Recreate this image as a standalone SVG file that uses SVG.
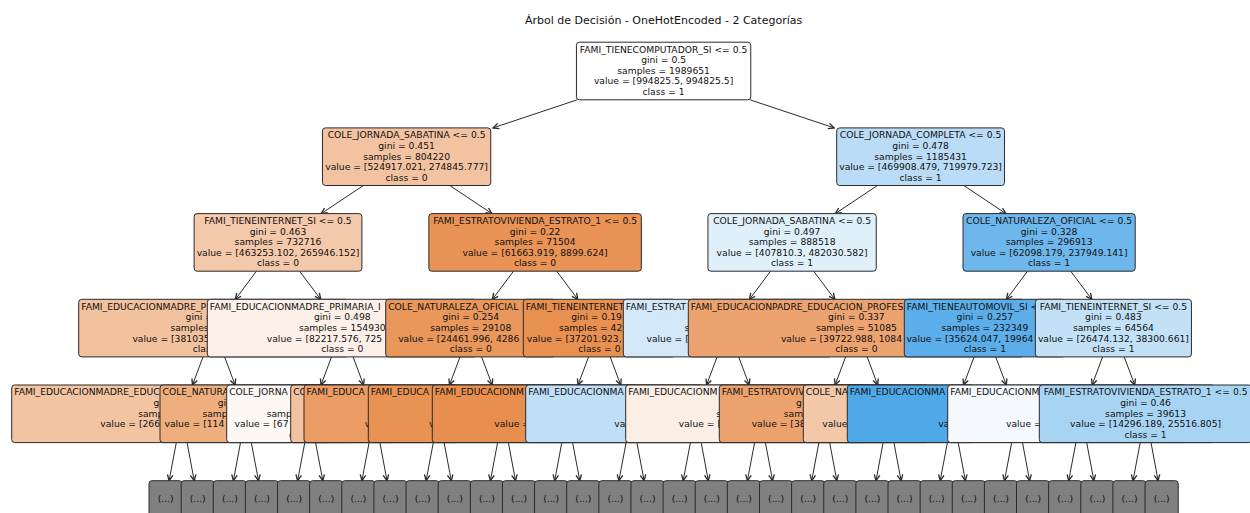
<svg xmlns="http://www.w3.org/2000/svg" width="1250" height="513" viewBox="0 0 1250 513">
<defs>
<style>
.t{font-family:"DejaVu Sans","Liberation Sans",sans-serif;font-size:9.2px;fill:#111}
.m{text-anchor:middle}
.ttl{font-family:"DejaVu Sans","Liberation Sans",sans-serif;font-size:11px;fill:#111;text-anchor:middle}
.box{stroke:#2b2b2b;stroke-width:1}
.leaf{fill:#808080;stroke:#2b2b2b;stroke-width:1}
.e line{stroke:#2b2b2b;stroke-width:1;marker-end:url(#ah)}
</style>
<marker id="ah" markerUnits="userSpaceOnUse" markerWidth="8" markerHeight="8" refX="5" refY="3" orient="auto" viewBox="0 0 6 6"><path d="M0.6,0.9 L5,3 L0.6,5.1" fill="none" stroke="#2b2b2b" stroke-width="1"/></marker>
</defs>
<rect width="1250" height="513" fill="#fff"/>
<text class="ttl" x="663.6" y="23.5">Árbol de Decisión - OneHotEncoded - 2 Categorías</text>

<g id="connectors" class="e">
<line x1="577.2" y1="99.8" x2="493.0" y2="127.9"/>
<line x1="750.0" y1="99.8" x2="834.2" y2="127.9"/>
<line x1="363.4" y1="185.5" x2="321.2" y2="213.6"/>
<line x1="449.8" y1="185.5" x2="491.9" y2="213.6"/>
<line x1="877.4" y1="185.5" x2="835.3" y2="213.6"/>
<line x1="963.8" y1="185.5" x2="1005.9" y2="213.6"/>
<line x1="256.4" y1="271.2" x2="235.4" y2="299.3"/>
<line x1="299.6" y1="271.2" x2="320.7" y2="299.3"/>
<line x1="513.5" y1="271.2" x2="492.4" y2="299.3"/>
<line x1="556.7" y1="271.2" x2="577.8" y2="299.3"/>
<line x1="770.5" y1="271.2" x2="749.5" y2="299.3"/>
<line x1="813.7" y1="271.2" x2="834.8" y2="299.3"/>
<line x1="1027.5" y1="271.2" x2="1006.5" y2="299.3"/>
<line x1="1070.7" y1="271.2" x2="1091.8" y2="299.3"/>
<line x1="203.0" y1="356.9" x2="192.5" y2="385.0"/>
<line x1="224.6" y1="356.9" x2="235.1" y2="385.0"/>
<line x1="331.5" y1="356.9" x2="321.0" y2="385.0"/>
<line x1="353.1" y1="356.9" x2="363.6" y2="385.0"/>
<line x1="460.0" y1="356.9" x2="449.5" y2="385.0"/>
<line x1="481.6" y1="356.9" x2="492.2" y2="385.0"/>
<line x1="588.6" y1="356.9" x2="578.0" y2="385.0"/>
<line x1="610.2" y1="356.9" x2="620.7" y2="385.0"/>
<line x1="717.1" y1="356.9" x2="706.6" y2="385.0"/>
<line x1="738.7" y1="356.9" x2="749.2" y2="385.0"/>
<line x1="845.6" y1="356.9" x2="835.1" y2="385.0"/>
<line x1="867.2" y1="356.9" x2="877.7" y2="385.0"/>
<line x1="974.1" y1="356.9" x2="963.6" y2="385.0"/>
<line x1="995.7" y1="356.9" x2="1006.3" y2="385.0"/>
<line x1="1102.6" y1="356.9" x2="1092.1" y2="385.0"/>
<line x1="1124.2" y1="356.9" x2="1134.8" y2="385.0"/>
<line x1="176.3" y1="442.6" x2="169.1" y2="480.7"/>
<line x1="187.1" y1="442.6" x2="194.2" y2="480.7"/>
<line x1="240.5" y1="442.6" x2="233.4" y2="480.7"/>
<line x1="251.3" y1="442.6" x2="258.5" y2="480.7"/>
<line x1="304.8" y1="442.6" x2="297.6" y2="480.7"/>
<line x1="315.6" y1="442.6" x2="322.8" y2="480.7"/>
<line x1="369.1" y1="442.6" x2="361.9" y2="480.7"/>
<line x1="379.9" y1="442.6" x2="387.0" y2="480.7"/>
<line x1="433.3" y1="442.6" x2="426.1" y2="480.7"/>
<line x1="444.1" y1="442.6" x2="451.3" y2="480.7"/>
<line x1="497.6" y1="442.6" x2="490.4" y2="480.7"/>
<line x1="508.4" y1="442.6" x2="515.5" y2="480.7"/>
<line x1="561.8" y1="442.6" x2="554.7" y2="480.7"/>
<line x1="572.6" y1="442.6" x2="579.8" y2="480.7"/>
<line x1="626.1" y1="442.6" x2="618.9" y2="480.7"/>
<line x1="636.9" y1="442.6" x2="644.1" y2="480.7"/>
<line x1="690.4" y1="442.6" x2="683.2" y2="480.7"/>
<line x1="701.2" y1="442.6" x2="708.3" y2="480.7"/>
<line x1="754.6" y1="442.6" x2="747.4" y2="480.7"/>
<line x1="765.4" y1="442.6" x2="772.6" y2="480.7"/>
<line x1="818.9" y1="442.6" x2="811.7" y2="480.7"/>
<line x1="829.7" y1="442.6" x2="836.8" y2="480.7"/>
<line x1="883.1" y1="442.6" x2="876.0" y2="480.7"/>
<line x1="893.9" y1="442.6" x2="901.1" y2="480.7"/>
<line x1="947.4" y1="442.6" x2="940.2" y2="480.7"/>
<line x1="958.2" y1="442.6" x2="965.4" y2="480.7"/>
<line x1="1011.7" y1="442.6" x2="1004.5" y2="480.7"/>
<line x1="1022.5" y1="442.6" x2="1029.6" y2="480.7"/>
<line x1="1075.9" y1="442.6" x2="1068.7" y2="480.7"/>
<line x1="1086.7" y1="442.6" x2="1093.9" y2="480.7"/>
<line x1="1140.2" y1="442.6" x2="1133.0" y2="480.7"/>
<line x1="1151.0" y1="442.6" x2="1158.1" y2="480.7"/>
</g>

<g id="n0"><rect class="box" x="576.45" y="42.2" width="174.3" height="57.6" rx="3" fill="#ffffff"/>
<text class="t m" x="663.6" y="52.6">FAMI_TIENECOMPUTADOR_SI &lt;= 0.5</text>
<text class="t m" x="663.6" y="63.2">gini = 0.5</text>
<text class="t m" x="663.6" y="73.8">samples = 1989651</text>
<text class="t m" x="663.6" y="84.4">value = [994825.5, 994825.5]</text>
<text class="t m" x="663.6" y="95.0">class = 1</text></g>

<g id="n1a"><rect class="box" x="322.45" y="127.9" width="168.3" height="57.6" rx="3" fill="#f3c3a1"/>
<text class="t m" x="406.6" y="138.3">COLE_JORNADA_SABATINA &lt;= 0.5</text>
<text class="t m" x="406.6" y="148.9">gini = 0.451</text>
<text class="t m" x="406.6" y="159.5">samples = 804220</text>
<text class="t m" x="406.6" y="170.1">value = [524917.021, 274845.777]</text>
<text class="t m" x="406.6" y="180.7">class = 0</text></g>

<g id="n1b"><rect class="box" x="836.7" y="127.9" width="167.8" height="57.6" rx="3" fill="#badcf6"/>
<text class="t m" x="920.6" y="138.3">COLE_JORNADA_COMPLETA &lt;= 0.5</text>
<text class="t m" x="920.6" y="148.9">gini = 0.478</text>
<text class="t m" x="920.6" y="159.5">samples = 1185431</text>
<text class="t m" x="920.6" y="170.1">value = [469908.479, 719979.723]</text>
<text class="t m" x="920.6" y="180.7">class = 1</text></g>

<g id="n2a"><rect class="box" x="194.1" y="213.6" width="167.8" height="57.6" rx="3" fill="#f4c9ab"/>
<text class="t m" x="278.0" y="224.0">FAMI_TIENEINTERNET_SI &lt;= 0.5</text>
<text class="t m" x="278.0" y="234.6">gini = 0.463</text>
<text class="t m" x="278.0" y="245.2">samples = 732716</text>
<text class="t m" x="278.0" y="255.8">value = [463253.102, 265946.152]</text>
<text class="t m" x="278.0" y="266.4">class = 0</text></g>

<g id="n2b"><rect class="box" x="428.85" y="213.6" width="212.5" height="57.6" rx="3" fill="#e99356"/>
<text class="t m" x="535.1" y="224.0">FAMI_ESTRATOVIVIENDA_ESTRATO_1 &lt;= 0.5</text>
<text class="t m" x="535.1" y="234.6">gini = 0.22</text>
<text class="t m" x="535.1" y="245.2">samples = 71504</text>
<text class="t m" x="535.1" y="255.8">value = [61663.919, 8899.624]</text>
<text class="t m" x="535.1" y="266.4">class = 0</text></g>

<g id="n2c"><rect class="box" x="707.95" y="213.6" width="168.3" height="57.6" rx="3" fill="#e0f0fb"/>
<text class="t m" x="792.1" y="224.0">COLE_JORNADA_SABATINA &lt;= 0.5</text>
<text class="t m" x="792.1" y="234.6">gini = 0.497</text>
<text class="t m" x="792.1" y="245.2">samples = 888518</text>
<text class="t m" x="792.1" y="255.8">value = [407810.3, 482030.582]</text>
<text class="t m" x="792.1" y="266.4">class = 1</text></g>

<g id="n2d"><rect class="box" x="963.0" y="213.6" width="172.2" height="57.6" rx="3" fill="#6db7ec"/>
<text class="t m" x="1049.1" y="224.0">COLE_NATURALEZA_OFICIAL &lt;= 0.5</text>
<text class="t m" x="1049.1" y="234.6">gini = 0.328</text>
<text class="t m" x="1049.1" y="245.2">samples = 296913</text>
<text class="t m" x="1049.1" y="255.8">value = [62098.179, 237949.141]</text>
<text class="t m" x="1049.1" y="266.4">class = 1</text></g>

<g id="n3a"><rect class="box" x="78.7" y="299.3" width="270.2" height="57.6" rx="3" fill="#f2c19e"/>
<text class="t" x="81.2" y="309.7">FAMI_EDUCACIONMADRE_P</text>
<text class="t" x="185.6" y="320.3">gini =</text>
<text class="t" x="170.4" y="330.9">samples</text>
<text class="t" x="132.4" y="341.5">value = [381035</text>
<text class="t" x="192.7" y="352.1">clas</text></g>

<g id="n3b"><rect class="box" x="207.3" y="299.3" width="270" height="57.6" rx="3" fill="#fcf0e8"/>
<text class="t" x="209.8" y="309.7">FAMI_EDUCACIONMADRE_PRIMARIA_I</text>
<text class="t m" x="342.3" y="320.3">gini = 0.498</text>
<text class="t m" x="342.3" y="330.9">samples = 154930</text>
<text class="t" x="266.8" y="341.5">value = [82217.576, 725</text>
<text class="t m" x="342.3" y="352.1">class = 0</text></g>

<g id="n3c"><rect class="box" x="385.7" y="299.3" width="170.2" height="57.6" rx="3" fill="#ea975c"/>
<text class="t" x="388.2" y="309.7">COLE_NATURALEZA_OFICIAL</text>
<text class="t m" x="470.8" y="320.3">gini = 0.254</text>
<text class="t m" x="470.8" y="330.9">samples = 29108</text>
<text class="t" x="398.2" y="341.5">value = [24461.996, 4286</text>
<text class="t m" x="470.8" y="352.1">class = 0</text></g>

<g id="n3d"><rect class="box" x="523.3" y="299.3" width="152.2" height="57.6" rx="3" fill="#e89050"/>
<text class="t" x="525.8" y="309.7">FAMI_TIENEINTERNET</text>
<text class="t" x="571.2" y="320.3">gini = 0.19</text>
<text class="t" x="558.9" y="330.9">samples = 42</text>
<text class="t" x="526.8" y="341.5">value = [37201.923,</text>
<text class="t m" x="599.4" y="352.1">class = 0</text></g>

<g id="n3e"><rect class="box" x="623.3" y="299.3" width="209.2" height="57.6" rx="3" fill="#d3e9f9"/>
<text class="t" x="625.8" y="309.7">FAMI_ESTRAT</text>
<text class="t" x="684.5" y="330.9">s</text>
<text class="t" x="646.5" y="341.5">value = [</text></g>

<g id="n3f"><rect class="box" x="688.3" y="299.3" width="336.2" height="57.6" rx="3" fill="#eca36f"/>
<text class="t" x="690.8" y="309.7">FAMI_EDUCACIONPADRE_EDUCACION_PROFES</text>
<text class="t m" x="856.4" y="320.3">gini = 0.337</text>
<text class="t m" x="856.4" y="330.9">samples = 51085</text>
<text class="t" x="780.9" y="341.5">value = [39722.988, 1084</text>
<text class="t m" x="856.4" y="352.1">class = 0</text></g>

<g id="n3g"><rect class="box" x="904.3" y="299.3" width="161.2" height="57.6" rx="3" fill="#5caeea"/>
<text class="t" x="906.8" y="309.7">FAMI_TIENEAUTOMOVIL_SI &lt;</text>
<text class="t m" x="984.9" y="320.3">gini = 0.257</text>
<text class="t m" x="984.9" y="330.9">samples = 232349</text>
<text class="t" x="906.4" y="341.5">value = [35624.047, 19964</text>
<text class="t m" x="984.9" y="352.1">class = 1</text></g>

<g id="n3h"><rect class="box" x="1035.35" y="299.3" width="156.1" height="57.6" rx="3" fill="#c2e1f7"/>
<text class="t m" x="1113.4" y="309.7">FAMI_TIENEINTERNET_SI &lt;= 0.5</text>
<text class="t m" x="1113.4" y="320.3">gini = 0.483</text>
<text class="t m" x="1113.4" y="330.9">samples = 64564</text>
<text class="t m" x="1113.4" y="341.5">value = [26474.132, 38300.661]</text>
<text class="t m" x="1113.4" y="352.1">class = 1</text></g>

<g id="n4_0"><rect class="box" x="11.7" y="385.0" width="339.9" height="57.6" rx="3" fill="#f3c4a2"/>
<text class="t" x="14.2" y="395.4">FAMI_EDUCACIONMADRE_EDUC</text>
<text class="t" x="153.5" y="406.0">g</text>
<text class="t" x="138.2" y="416.6">samp</text>
<text class="t" x="100.3" y="427.2">value = [266</text></g>

<g id="n4_1"><rect class="box" x="160" y="385.0" width="171.9" height="57.6" rx="3" fill="#eeae7d"/>
<text class="t" x="162.5" y="395.4">COLE_NATURA</text>
<text class="t" x="217.7" y="406.0">gi</text>
<text class="t" x="202.4" y="416.6">samp</text>
<text class="t" x="164.5" y="427.2">value = [114</text></g>

<g id="n4_2"><rect class="box" x="226.7" y="385.0" width="167" height="57.6" rx="3" fill="#fdf8f4"/>
<text class="t" x="229.2" y="395.4">COLE_JORNA</text>
<text class="t" x="266.7" y="416.6">samp</text>
<text class="t" x="234.6" y="427.2">value = [67</text>
<text class="t" x="289.1" y="437.8">c</text></g>

<g id="n4_3"><rect class="box" x="290.7" y="385.0" width="167.5" height="57.6" rx="3" fill="#f2c2a0"/>
<text class="t" x="293.2" y="395.4">CO</text></g>

<g id="n4_4"><rect class="box" x="304" y="385.0" width="269.4" height="57.6" rx="3" fill="#eb9d65"/>
<text class="t" x="306.5" y="395.4">FAMI_EDUCA</text>
<text class="t" x="364.8" y="427.2">v</text></g>

<g id="n4_5"><rect class="box" x="368.3" y="385.0" width="269.3" height="57.6" rx="3" fill="#e89253"/>
<text class="t" x="370.8" y="395.4">FAMI_EDUCA</text>
<text class="t" x="429" y="427.2">v</text></g>

<g id="n4_6"><rect class="box" x="432.3" y="385.0" width="269.9" height="57.6" rx="3" fill="#e78f4f"/>
<text class="t" x="434.8" y="395.4">FAMI_EDUCACIONM</text>
<text class="t" x="494.3" y="427.2">value =</text></g>

<g id="n4_8"><rect class="box" x="525.7" y="385.0" width="340.1" height="57.6" rx="3" fill="#bfdff7"/>
<text class="t" x="528.2" y="395.4">FAMI_EDUCACIONMA</text>
<text class="t" x="614.3" y="427.2">va</text></g>

<g id="n4_9"><rect class="box" x="625.7" y="385.0" width="268.6" height="57.6" rx="3" fill="#fbeee4"/>
<text class="t" x="628.2" y="395.4">FAMI_EDUCACIONM</text>
<text class="t" x="716.3" y="416.6">s</text>
<text class="t" x="678.8" y="427.2">value = [</text></g>

<g id="n4_10"><rect class="box" x="719.3" y="385.0" width="209.9" height="57.6" rx="3" fill="#eca26d"/>
<text class="t" x="721.8" y="395.4">FAMI_ESTRATOVIV</text>
<text class="t" x="796.1" y="406.0">g</text>
<text class="t" x="783.8" y="416.6">sam</text>
<text class="t" x="751.7" y="427.2">value = [38</text></g>

<g id="n4_11"><rect class="box" x="803.3" y="385.0" width="170.5" height="57.6" rx="3" fill="#f3c8a8"/>
<text class="t" x="805.8" y="395.4">COLE_NA</text>
<text class="t" x="822.3" y="427.2">value</text></g>

<g id="n4_13"><rect class="box" x="847.3" y="385.0" width="339.5" height="57.6" rx="3" fill="#4fa8e8"/>
<text class="t" x="849.8" y="395.4">FAMI_EDUCACIONMA</text>
<text class="t" x="938.3" y="427.2">va</text></g>

<g id="n4_14"><rect class="box" x="947.7" y="385.0" width="267.2" height="57.6" rx="3" fill="#f5f9fe"/>
<text class="t" x="950.2" y="395.4">FAMI_EDUCACIONM</text>
<text class="t" x="1006" y="427.2">value =</text></g>

<g id="n4_15"><rect class="box" x="1039.3" y="385.0" width="212.5" height="57.6" rx="3" fill="#a8d4f4"/>
<text class="t m" x="1145.6" y="395.4">FAMI_ESTRATOVIVIENDA_ESTRATO_1 &lt;= 0.5</text>
<text class="t m" x="1145.6" y="406.0">gini = 0.46</text>
<text class="t m" x="1145.6" y="416.6">samples = 39613</text>
<text class="t m" x="1145.6" y="427.2">value = [14296.189, 25516.805]</text>
<text class="t m" x="1145.6" y="437.8">class = 1</text></g>

<g id="leaves">
<g id="l0"><rect class="leaf" x="149.0" y="480.7" width="33.2" height="37.6" rx="3"/><text class="t m" x="165.6" y="502.3">(...)</text></g>
<g id="l1"><rect class="leaf" x="181.13" y="480.7" width="33.2" height="37.6" rx="3"/><text class="t m" x="197.73" y="502.3">(...)</text></g>
<g id="l2"><rect class="leaf" x="213.26" y="480.7" width="33.2" height="37.6" rx="3"/><text class="t m" x="229.86" y="502.3">(...)</text></g>
<g id="l3"><rect class="leaf" x="245.39" y="480.7" width="33.2" height="37.6" rx="3"/><text class="t m" x="261.99" y="502.3">(...)</text></g>
<g id="l4"><rect class="leaf" x="277.52" y="480.7" width="33.2" height="37.6" rx="3"/><text class="t m" x="294.12" y="502.3">(...)</text></g>
<g id="l5"><rect class="leaf" x="309.65" y="480.7" width="33.2" height="37.6" rx="3"/><text class="t m" x="326.25" y="502.3">(...)</text></g>
<g id="l6"><rect class="leaf" x="341.78" y="480.7" width="33.2" height="37.6" rx="3"/><text class="t m" x="358.38" y="502.3">(...)</text></g>
<g id="l7"><rect class="leaf" x="373.91" y="480.7" width="33.2" height="37.6" rx="3"/><text class="t m" x="390.51" y="502.3">(...)</text></g>
<g id="l8"><rect class="leaf" x="406.04" y="480.7" width="33.2" height="37.6" rx="3"/><text class="t m" x="422.64" y="502.3">(...)</text></g>
<g id="l9"><rect class="leaf" x="438.17" y="480.7" width="33.2" height="37.6" rx="3"/><text class="t m" x="454.77" y="502.3">(...)</text></g>
<g id="l10"><rect class="leaf" x="470.3" y="480.7" width="33.2" height="37.6" rx="3"/><text class="t m" x="486.9" y="502.3">(...)</text></g>
<g id="l11"><rect class="leaf" x="502.43" y="480.7" width="33.2" height="37.6" rx="3"/><text class="t m" x="519.03" y="502.3">(...)</text></g>
<g id="l12"><rect class="leaf" x="534.56" y="480.7" width="33.2" height="37.6" rx="3"/><text class="t m" x="551.16" y="502.3">(...)</text></g>
<g id="l13"><rect class="leaf" x="566.69" y="480.7" width="33.2" height="37.6" rx="3"/><text class="t m" x="583.29" y="502.3">(...)</text></g>
<g id="l14"><rect class="leaf" x="598.82" y="480.7" width="33.2" height="37.6" rx="3"/><text class="t m" x="615.42" y="502.3">(...)</text></g>
<g id="l15"><rect class="leaf" x="630.95" y="480.7" width="33.2" height="37.6" rx="3"/><text class="t m" x="647.55" y="502.3">(...)</text></g>
<g id="l16"><rect class="leaf" x="663.08" y="480.7" width="33.2" height="37.6" rx="3"/><text class="t m" x="679.68" y="502.3">(...)</text></g>
<g id="l17"><rect class="leaf" x="695.21" y="480.7" width="33.2" height="37.6" rx="3"/><text class="t m" x="711.81" y="502.3">(...)</text></g>
<g id="l18"><rect class="leaf" x="727.34" y="480.7" width="33.2" height="37.6" rx="3"/><text class="t m" x="743.94" y="502.3">(...)</text></g>
<g id="l19"><rect class="leaf" x="759.47" y="480.7" width="33.2" height="37.6" rx="3"/><text class="t m" x="776.07" y="502.3">(...)</text></g>
<g id="l20"><rect class="leaf" x="791.6" y="480.7" width="33.2" height="37.6" rx="3"/><text class="t m" x="808.2" y="502.3">(...)</text></g>
<g id="l21"><rect class="leaf" x="823.73" y="480.7" width="33.2" height="37.6" rx="3"/><text class="t m" x="840.33" y="502.3">(...)</text></g>
<g id="l22"><rect class="leaf" x="855.86" y="480.7" width="33.2" height="37.6" rx="3"/><text class="t m" x="872.46" y="502.3">(...)</text></g>
<g id="l23"><rect class="leaf" x="887.99" y="480.7" width="33.2" height="37.6" rx="3"/><text class="t m" x="904.59" y="502.3">(...)</text></g>
<g id="l24"><rect class="leaf" x="920.12" y="480.7" width="33.2" height="37.6" rx="3"/><text class="t m" x="936.72" y="502.3">(...)</text></g>
<g id="l25"><rect class="leaf" x="952.25" y="480.7" width="33.2" height="37.6" rx="3"/><text class="t m" x="968.85" y="502.3">(...)</text></g>
<g id="l26"><rect class="leaf" x="984.38" y="480.7" width="33.2" height="37.6" rx="3"/><text class="t m" x="1000.98" y="502.3">(...)</text></g>
<g id="l27"><rect class="leaf" x="1016.51" y="480.7" width="33.2" height="37.6" rx="3"/><text class="t m" x="1033.11" y="502.3">(...)</text></g>
<g id="l28"><rect class="leaf" x="1048.64" y="480.7" width="33.2" height="37.6" rx="3"/><text class="t m" x="1065.24" y="502.3">(...)</text></g>
<g id="l29"><rect class="leaf" x="1080.77" y="480.7" width="33.2" height="37.6" rx="3"/><text class="t m" x="1097.37" y="502.3">(...)</text></g>
<g id="l30"><rect class="leaf" x="1112.9" y="480.7" width="33.2" height="37.6" rx="3"/><text class="t m" x="1129.5" y="502.3">(...)</text></g>
<g id="l31"><rect class="leaf" x="1145.03" y="480.7" width="33.2" height="37.6" rx="3"/><text class="t m" x="1161.63" y="502.3">(...)</text></g>
</g>
</svg>
